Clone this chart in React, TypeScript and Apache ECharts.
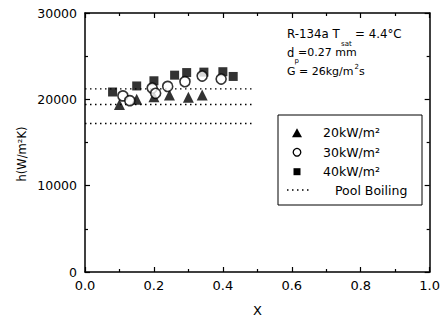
import React, { useEffect, useRef } from "react";
import * as echarts from "echarts";

const xTicks = [0, 0.2, 0.4, 0.6, 0.8, 1.0];
const yTicks = [0, 10000, 20000, 30000];

const seriesNames = ["20kW/m²", "30kW/m²", "40kW/m²", "Pool Boiling"];

const q20: [number, number][] = [
  [0.10, 19400], [0.15, 20000], [0.20, 20300], [0.245, 20500], [0.30, 20250], [0.34, 20500],
];
const q30: [number, number][] = [
  [0.11, 20400], [0.13, 19850], [0.195, 21300], [0.205, 20700], [0.24, 21500], [0.29, 22050], [0.34, 22700], [0.395, 22350],
];
const q40: [number, number][] = [
  [0.08, 20850], [0.15, 21550], [0.20, 22150], [0.26, 22800], [0.295, 23100], [0.345, 23150], [0.40, 23200], [0.43, 22650],
];
const poolLevels = [21200, 19400, 17200];
const poolRange = [0, 0.49];

const FONT = "DejaVu Sans";

export default function App() {
  const ref = useRef<HTMLDivElement>(null);
  useEffect(() => {
    if (!ref.current) return;
    const chart = echarts.init(ref.current, null, { renderer: "svg" });
    const axisCommon = {
      type: "value" as const,
      axisLine: { show: true, onZero: false, lineStyle: { color: "#000", width: 1.5 } },
      axisTick: { show: true, inside: true, length: 5, lineStyle: { color: "#000", width: 1.2 } },
      minorTick: { show: true, splitNumber: 2, length: 3, lineStyle: { color: "#000", width: 1.2 } },
      splitLine: { show: false },
    };
    const dotted = { stroke: "#000", lineWidth: 1.3, lineDash: [1.5, 3.5] };
    const poolSeries = poolLevels.map((lv) => ({
      name: seriesNames[3],
      type: "line",
      data: poolRange.map((x) => [x, lv]),
      symbol: "none",
      lineStyle: { color: "#000", width: 1.3, type: [1.5, 3.5] },
      itemStyle: { color: "#000" },
      z: 1,
    }));
    const legX = 297;
    const legTextX = 323;
    const legY = [132.7, 152.3, 171.7, 190];
    const legText = (i: number, x: number) => ({
      type: "text",
      x,
      y: legY[i],
      style: { text: seriesNames[i], fontFamily: FONT, fontSize: 12.5, fill: "#000", verticalAlign: "middle" },
      z: 10,
    });
    chart.setOption({
      animation: false,
      grid: { left: 85, right: 10.5, top: 13, bottom: 49.5 },
      xAxis: [
        {
          ...axisCommon,
          min: xTicks[0],
          max: xTicks[xTicks.length - 1],
          interval: 0.2,
          position: "bottom",
          axisLabel: {
            margin: 7,
            color: "#000",
            fontFamily: FONT,
            fontSize: 13,
            formatter: (v: number) => v.toFixed(1),
          },
          name: "X",
          nameLocation: "middle",
          nameGap: 32,
          nameTextStyle: { color: "#000", fontFamily: FONT, fontSize: 13 },
        },
        {
          ...axisCommon,
          min: xTicks[0],
          max: xTicks[xTicks.length - 1],
          interval: 0.2,
          position: "top",
          axisLabel: { show: false },
        },
      ],
      yAxis: [
        {
          ...axisCommon,
          min: yTicks[0],
          max: yTicks[yTicks.length - 1],
          interval: 10000,
          position: "left",
          axisLabel: {
            margin: 8,
            color: "#000",
            fontFamily: FONT,
            fontSize: 12.5,
            formatter: (v: number) => String(v),
          },
        },
        {
          ...axisCommon,
          min: yTicks[0],
          max: yTicks[yTicks.length - 1],
          interval: 10000,
          position: "right",
          axisLabel: { show: false },
        },
      ],
      series: [
        {
          name: seriesNames[0],
          type: "scatter",
          data: q20,
          symbol: "triangle",
          symbolSize: 11,
          itemStyle: { color: "#000" },
          z: 3,
        },
        {
          name: seriesNames[1],
          type: "scatter",
          data: q30,
          symbol: "circle",
          symbolSize: 10,
          itemStyle: { color: "#fff", borderColor: "#000", borderWidth: 1.6 },
          z: 4,
        },
        {
          name: seriesNames[2],
          type: "scatter",
          data: q40,
          symbol: "rect",
          symbolSize: 9,
          itemStyle: { color: "#000" },
          z: 2,
        },
        ...poolSeries,
      ],
      graphic: [
        {
          type: "rect",
          shape: { x: 278, y: 115, width: 144, height: 90 },
          style: { fill: "#fff", stroke: "#000", lineWidth: 1 },
          z: 9,
        },
        {
          type: "polygon",
          shape: { points: [[legX - 5, legY[0] + 4.5], [legX + 5, legY[0] + 4.5], [legX, legY[0] - 4.5]] },
          style: { fill: "#000" },
          z: 10,
        },
        {
          type: "circle",
          shape: { cx: legX, cy: legY[1], r: 3.8 },
          style: { fill: "#fff", stroke: "#000", lineWidth: 1.3 },
          z: 10,
        },
        {
          type: "rect",
          shape: { x: legX - 3.5, y: legY[2] - 3.5, width: 7, height: 7 },
          style: { fill: "#000" },
          z: 10,
        },
        {
          type: "line",
          shape: { x1: 287, y1: legY[3], x2: 311, y2: legY[3] },
          style: dotted,
          z: 10,
        },
        legText(0, legTextX),
        legText(1, legTextX),
        legText(2, legTextX),
        legText(3, 335),
        {
          type: "text",
          x: 21.5,
          y: 154,
          rotation: Math.PI / 2,
          style: { text: "h(W/m²K)", fontFamily: FONT, fontSize: 11.5, fill: "#000", align: "center", verticalAlign: "middle" },
        },
        { type: "text", x: 287, y: 34.3, style: { text: "R-134a T", fontFamily: FONT, fontSize: 11.8, fill: "#000", verticalAlign: "middle" } },
        { type: "text", x: 341, y: 43.6, style: { text: "sat", fontFamily: FONT, fontSize: 7, fill: "#000", verticalAlign: "middle" } },
        { type: "text", x: 355, y: 34.3, style: { text: "= 4.4°C", fontFamily: FONT, fontSize: 11.8, fill: "#000", verticalAlign: "middle" } },
        { type: "text", x: 287, y: 52.7, style: { text: "d", fontFamily: FONT, fontSize: 11.5, fill: "#000", verticalAlign: "middle" } },
        { type: "text", x: 294.5, y: 60.5, style: { text: "p", fontFamily: FONT, fontSize: 7, fill: "#000", verticalAlign: "middle" } },
        { type: "text", x: 298, y: 52.7, style: { text: "=0.27 mm", fontFamily: FONT, fontSize: 11, fill: "#000", verticalAlign: "middle" } },
        { type: "text", x: 287, y: 71, style: { text: "G = 26kg/m", fontFamily: FONT, fontSize: 11, fill: "#000", verticalAlign: "middle" } },
        { type: "text", x: 354.5, y: 67, style: { text: "2", fontFamily: FONT, fontSize: 7, fill: "#000", verticalAlign: "middle" } },
        { type: "text", x: 359, y: 71, style: { text: "s", fontFamily: FONT, fontSize: 11, fill: "#000", verticalAlign: "middle" } },
      ],
    });
    return () => chart.dispose();
  }, []);
  return <div ref={ref} style={{ width: 443, height: 322, position: "absolute", left: 0, top: 0, background: "#fff" }} />;
}
